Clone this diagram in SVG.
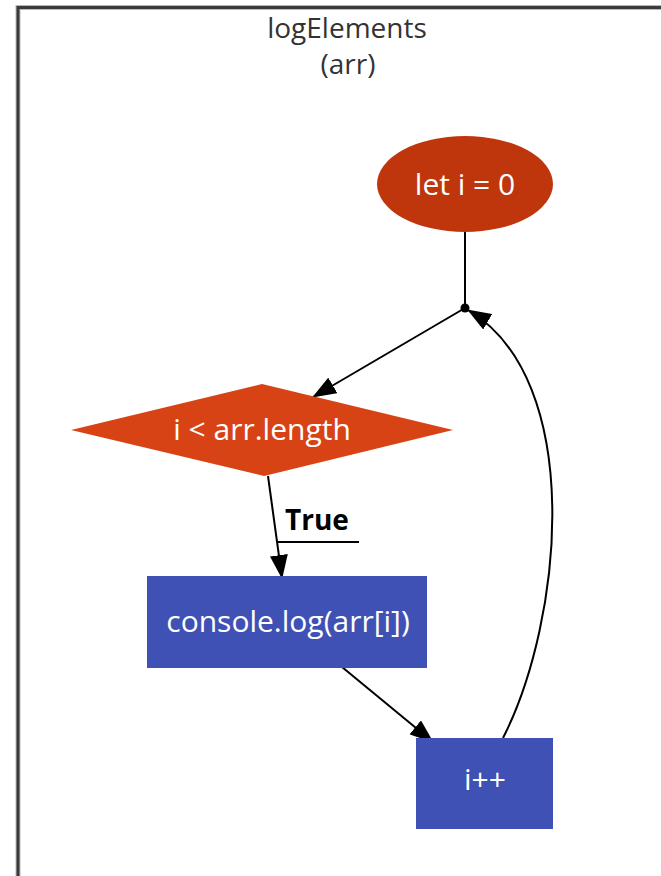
<svg xmlns="http://www.w3.org/2000/svg" width="661" height="876" viewBox="0 0 661 876">
  <style>
    .frame { stroke: #3a3a3a; stroke-width: 3; fill: none; }
    .frame-halo { stroke: #b8b8b8; stroke-width: 5; fill: none; }
    .title { font-family: "Open Sans", "Liberation Sans", sans-serif; font-size: 28px; fill: #333333; text-anchor: middle; }
    .label { font-family: "Open Sans", "Liberation Sans", sans-serif; font-size: 30px; fill: #ffffff; text-anchor: middle; }
    .edge { stroke: #000000; stroke-width: 2; fill: none; }
    .edge-label { font-family: "Open Sans", "Liberation Sans", sans-serif; font-size: 28px; font-weight: bold; fill: #000000; }
  </style>
  <defs>
    <marker id="arrow" markerUnits="userSpaceOnUse" markerWidth="24" markerHeight="18" refX="23" refY="9" orient="auto">
      <path d="M0,0 L24,9 L0,18 Z" fill="#000000"/>
    </marker>
  </defs>

  <rect width="661" height="876" fill="#ffffff"/>

  <!-- outer frame (open on the right and bottom) -->
  <g id="frame">
    <path class="frame-halo" d="M18,876 V7.5 H661"/>
    <path class="frame" d="M18,876 V7.5 H661"/>
  </g>

  <!-- function title -->
  <g id="title">
    <text class="title" x="347" y="38">logElements</text>
    <text class="title" x="348" y="74">(arr)</text>
  </g>

  <!-- connectors -->
  <g id="connectors">
    <line class="edge" x1="465" y1="232" x2="465" y2="308"/>
    <line class="edge" x1="465" y1="308" x2="313" y2="397" marker-end="url(#arrow)"/>
    <line class="edge" x1="268" y1="476" x2="282" y2="578" marker-end="url(#arrow)"/>
    <line class="edge" x1="342" y1="667" x2="433" y2="742" marker-end="url(#arrow)"/>
    <path class="edge" d="M503,738 C563,620 586,380 468,310" marker-end="url(#arrow)"/>
    <circle cx="465" cy="308" r="4.5" fill="#000000"/>
    <text class="edge-label" x="285" y="530">True</text>
    <line x1="277" y1="542" x2="359" y2="542" stroke="#000000" stroke-width="2"/>
  </g>

  <!-- nodes -->
  <g id="node-init">
    <ellipse cx="465" cy="184" rx="88" ry="48" fill="#BF360C"/>
    <text class="label" x="465" y="195">let i = 0</text>
  </g>

  <g id="node-condition">
    <polygon points="262,384 453,430 264,476 71,430" fill="#D84315"/>
    <text class="label" x="262" y="440">i &lt; arr.length</text>
  </g>

  <g id="node-body">
    <rect x="147" y="576" width="280" height="92" fill="#3F51B5"/>
    <text class="label" x="288" y="632">console.log(arr[i])</text>
  </g>

  <g id="node-increment">
    <rect x="416" y="738" width="137" height="91" fill="#3F51B5"/>
    <text class="label" x="485" y="790">i++</text>
  </g>
</svg>
